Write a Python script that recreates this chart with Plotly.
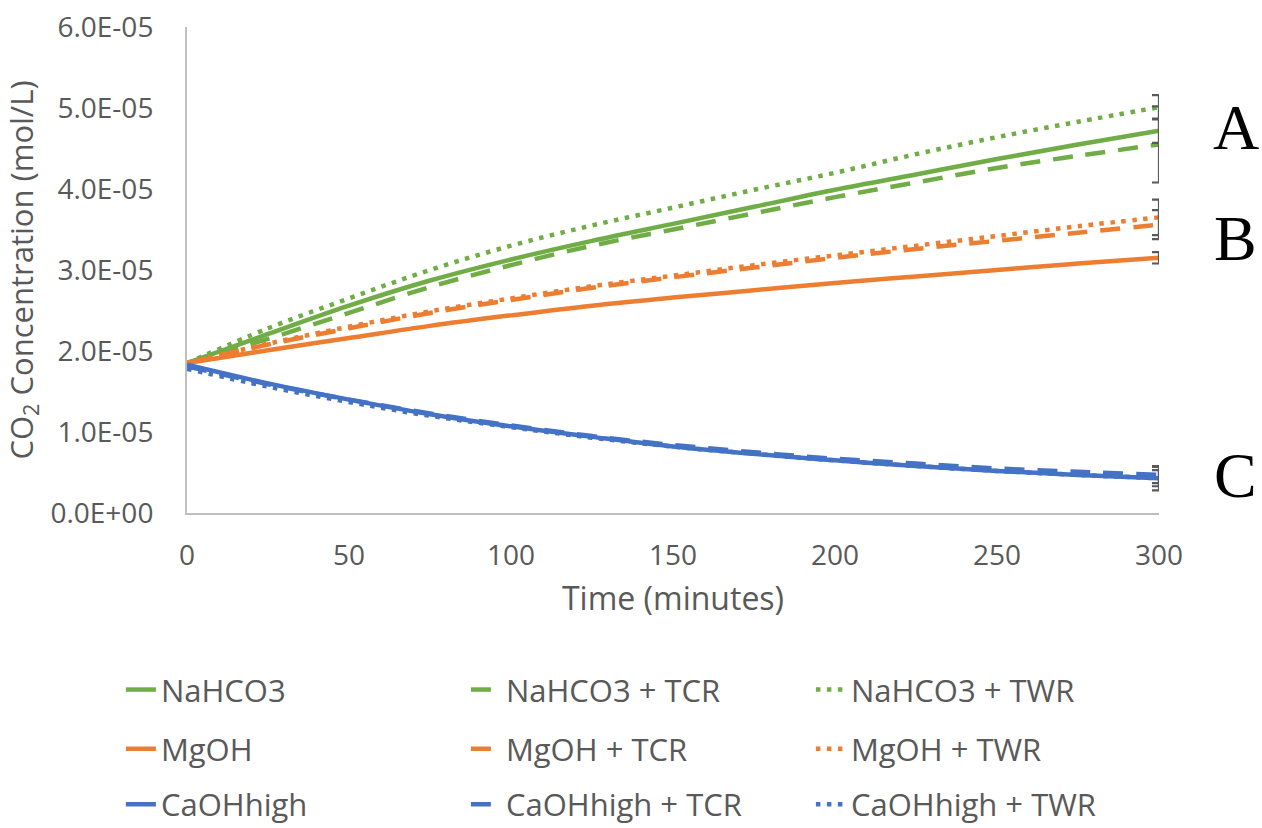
import plotly.graph_objects as go

# ---------------- data ----------------
time_min = [0, 25, 50, 75, 100, 125, 150, 175, 200, 225, 250, 275, 300]

nahco3     = [1.85e-5, 2.21e-5, 2.56e-5, 2.87e-5, 3.13e-5, 3.36e-5, 3.57e-5, 3.78e-5, 3.99e-5, 4.18e-5, 4.37e-5, 4.55e-5, 4.72e-5]
nahco3_tcr = [1.85e-5, 2.15e-5, 2.47e-5, 2.79e-5, 3.06e-5, 3.30e-5, 3.50e-5, 3.70e-5, 3.90e-5, 4.08e-5, 4.26e-5, 4.41e-5, 4.55e-5]
nahco3_twr = [1.85e-5, 2.28e-5, 2.65e-5, 3.00e-5, 3.30e-5, 3.55e-5, 3.77e-5, 3.99e-5, 4.20e-5, 4.43e-5, 4.64e-5, 4.83e-5, 5.01e-5]

mgoh       = [1.85e-5, 2.01e-5, 2.16e-5, 2.31e-5, 2.44e-5, 2.56e-5, 2.66e-5, 2.75e-5, 2.84e-5, 2.92e-5, 3.00e-5, 3.08e-5, 3.15e-5]
mgoh_tcr   = [1.85e-5, 2.08e-5, 2.28e-5, 2.47e-5, 2.63e-5, 2.78e-5, 2.91e-5, 3.03e-5, 3.15e-5, 3.26e-5, 3.36e-5, 3.46e-5, 3.56e-5]
mgoh_twr   = [1.85e-5, 2.09e-5, 2.30e-5, 2.49e-5, 2.65e-5, 2.80e-5, 2.93e-5, 3.06e-5, 3.18e-5, 3.30e-5, 3.42e-5, 3.54e-5, 3.65e-5]

caoh       = [1.83e-5, 1.60e-5, 1.40e-5, 1.22e-5, 1.07e-5, 0.94e-5, 0.82e-5, 0.73e-5, 0.65e-5, 0.58e-5, 0.52e-5, 0.47e-5, 0.43e-5]
caoh_tcr   = [1.81e-5, 1.59e-5, 1.40e-5, 1.23e-5, 1.08e-5, 0.95e-5, 0.84e-5, 0.75e-5, 0.67e-5, 0.61e-5, 0.55e-5, 0.51e-5, 0.47e-5]
caoh_twr   = [1.78e-5, 1.56e-5, 1.37e-5, 1.20e-5, 1.06e-5, 0.93e-5, 0.82e-5, 0.73e-5, 0.65e-5, 0.58e-5, 0.52e-5, 0.47e-5, 0.43e-5]

# error (+/-) at the final time point
err_end = {
    "NaHCO3": 0.15e-5, "NaHCO3 + TCR": 0.47e-5, "NaHCO3 + TWR": 0.15e-5,
    "MgOH": 0.07e-5, "MgOH + TCR": 0.18e-5, "MgOH + TWR": 0.22e-5,
    "CaOHhigh": 0.15e-5, "CaOHhigh + TCR": 0.10e-5, "CaOHhigh + TWR": 0.10e-5,
}

y_tickvals = [0, 1e-5, 2e-5, 3e-5, 4e-5, 5e-5, 6e-5]
y_ticktext = ["0.0E+00", "1.0E-05", "2.0E-05", "3.0E-05", "4.0E-05", "5.0E-05", "6.0E-05"]
x_tickvals = [0, 50, 100, 150, 200, 250, 300]

group_labels = ["A", "B", "C"]

# ---------------- styling ----------------
GREEN, ORANGE, BLUE = "#70AD47", "#ED7D31", "#4472C4"
FONT = "Open Sans"
TXT = "#595959"
LW = 4.5
DASH = "20px,13px"
DOT = "4.5px,6.5px"

series = [
    ("NaHCO3", nahco3, GREEN, "solid", "legend"),
    ("NaHCO3 + TCR", nahco3_tcr, GREEN, DASH, "legend"),
    ("NaHCO3 + TWR", nahco3_twr, GREEN, DOT, "legend"),
    ("MgOH", mgoh, ORANGE, "solid", "legend2"),
    ("MgOH + TCR", mgoh_tcr, ORANGE, DASH, "legend2"),
    ("MgOH + TWR", mgoh_twr, ORANGE, DOT, "legend2"),
    ("CaOHhigh", caoh, BLUE, "solid", "legend3"),
    ("CaOHhigh + TCR", caoh_tcr, BLUE, DASH, "legend3"),
    ("CaOHhigh + TWR", caoh_twr, BLUE, DOT, "legend3"),
]

fig = go.Figure()
for name, ys, col, dash, leg in series:
    fig.add_trace(go.Scatter(
        x=time_min, y=ys, name=name, mode="lines",
        line=dict(color=col, width=LW, dash=dash, shape="spline"),
        legend=leg, cliponaxis=False,
    ))

for name, ys, col, dash, leg in series:
    fig.add_trace(go.Scatter(
        x=[time_min[-1]], y=[ys[-1]], mode="markers",
        marker=dict(size=1, color="rgba(0,0,0,0)"),
        error_y=dict(type="data", array=[err_end[name]], color=TXT,
                     thickness=2.2, width=7, visible=True),
        showlegend=False, hoverinfo="skip", cliponaxis=False,
    ))

axis_common = dict(showgrid=False, zeroline=False, showline=True,
                   linecolor="#BFBFBF", linewidth=2, ticks="",
                   tickfont=dict(family=FONT, size=28, color=TXT))

fig.update_xaxes(range=[0, 300], tickvals=x_tickvals, ticklabelstandoff=16,
                 title=dict(text="Time (minutes)", font=dict(family=FONT, size=32, color=TXT), standoff=16),
                 **axis_common)
fig.update_yaxes(range=[0, 6e-5], tickvals=y_tickvals, ticktext=y_ticktext, ticklabelstandoff=26,
                 title=dict(text="CO<sub>2</sub> Concentration (mol/L)", font=dict(family=FONT, size=31, color=TXT), standoff=8),
                 **axis_common)

leg_common = dict(orientation="h", xanchor="left", yanchor="middle", x=-0.068,
                  font=dict(family=FONT, size=31, color=TXT), entrywidth=300,
                  bgcolor="rgba(0,0,0,0)", itemwidth=30, traceorder="normal")
fig.update_layout(
    width=1262, height=828,
    margin=dict(l=187, r=103, t=27, b=315, autoexpand=False),
    paper_bgcolor="white", plot_bgcolor="white",
    legend=dict(y=-0.364, **leg_common),
    legend2=dict(y=-0.486, **leg_common),
    legend3=dict(y=-0.600, **leg_common),
)

for lab, yp in zip(group_labels, [0.794, 0.564, 0.078]):
    fig.add_annotation(text=lab, xref="paper", yref="paper", x=1.079, y=yp,
                       showarrow=False, font=dict(family="Liberation Serif", size=64, color="black"),
                       xanchor="center", yanchor="middle")

fig.write_html("out.html")
